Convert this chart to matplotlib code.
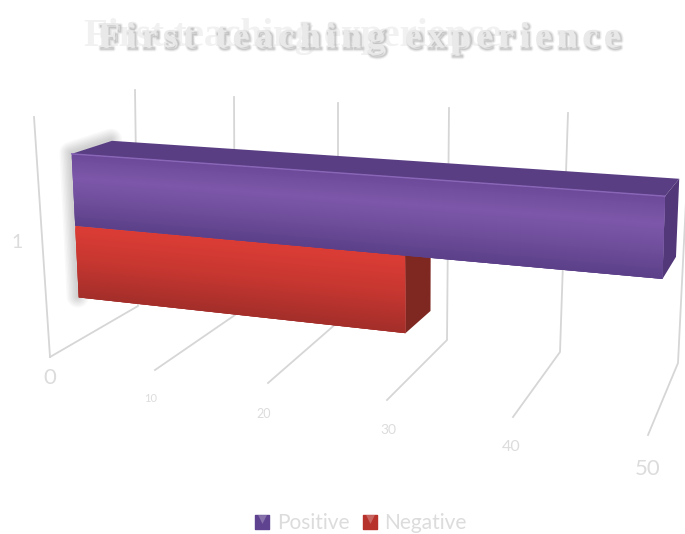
import numpy as np
import matplotlib
matplotlib.use("Agg")
import matplotlib.pyplot as plt
import matplotlib.patheffects as pe
from matplotlib.font_manager import FontProperties
from matplotlib.colors import to_rgb

plt.rcParams["font.family"] = ["Lato", "DejaVu Sans"]

title = "First teaching experience"
categories = ["1"]
series_names = ["Positive", "Negative"]
positive = [50]
negative = [29.8]
ticks = [0, 10, 20, 30, 40, 50]
tick_labels = ["0", "10", "20", "30", "40", "50"]

# 3D box as seen in the picture (pixels), one entry per tick
floor_front = np.array([[50, 357], [155, 370], [268, 383], [387, 400], [513, 417], [648, 435]], float)
floor_back = np.array([[138, 306], [235, 315], [338, 322], [447, 340], [560, 352], [678, 363]], float)
wall_back = np.array([[135, 90], [234, 97], [338, 103], [449, 108], [568, 113], [690, 120]], float)
wall_front = np.array([[34, 117], [143, 122], [261, 127], [384, 136], [515, 145], [654, 155]], float)

# where the bars sit inside the box
depth0, depth1 = 0.35, 0.76
low, mid, high = 0.18, 0.49, 0.80

fig = plt.figure(figsize=(6.85, 5.34), dpi=100)
ax = fig.add_axes([0, 0, 1, 1])
ax.set_xlim(0, 685)
ax.set_ylim(534, 0)
ax.axis("off")


def project(v, d, h):
    res = []
    for k in range(2):
        a = np.interp(v, ticks, floor_front[:, k])
        b = np.interp(v, ticks, floor_back[:, k])
        c = np.interp(v, ticks, wall_front[:, k])
        e = np.interp(v, ticks, wall_back[:, k])
        bottom = a + (b - a) * d
        top = c + (e - c) * d
        res.append(bottom + (top - bottom) * h)
    return res


def face(corners, color, z):
    ax.fill([p[0] for p in corners], [p[1] for p in corners], color=color, lw=0, zorder=z)


def front_face(value, h0, h1, colors, z):
    # vertical gradient, each strip runs a little under the next one so no seams show
    stops = np.linspace(0, 1, len(colors))
    rgb = np.array([to_rgb(c) for c in colors])
    edges = np.linspace(h1, h0, 41)
    for i in range(40):
        t = (i + 0.5) / 40
        col = [np.interp(t, stops, rgb[:, k]) for k in range(3)]
        below = edges[min(i + 3, 40)]
        face([project(0, depth0, edges[i]), project(value, depth0, edges[i]),
              project(value, depth0, below), project(0, depth0, below)], col, z + i * 0.001)


def box(value, h0, h1, colors, top_color, side_color, z):
    face([project(0, depth0, h1), project(0, depth1, h1),
          project(value, depth1, h1), project(value, depth0, h1)], top_color, z)
    face([project(value, depth0, h0), project(value, depth1, h0),
          project(value, depth1, h1), project(value, depth0, h1)], side_color, z)
    front_face(value, h0, h1, colors, z + 0.1)


# gridlines on floor and wall
for i, t in enumerate(ticks):
    pts = [project(t, 0, 0), project(t, 1, 0), project(t, 1, 1)]
    ax.plot([p[0] for p in pts], [p[1] for p in pts], color="#d6d6d6", lw=1.3, zorder=1)
ax.plot([project(0, 0, 0)[0], project(0, 0, 1)[0]], [project(0, 0, 0)[1], project(0, 0, 1)[1]],
        color="#d6d6d6", lw=1.3, zorder=1)

# soft shadow round the left end of the bars
shadow = [project(0, depth1, high), project(0, depth0, high), project(0, depth0, low)]
for lw in range(2, 17, 2):
    ax.plot([p[0] - 1 for p in shadow], [p[1] - 1 for p in shadow], color="#404040", alpha=0.03,
            lw=lw, solid_capstyle="round", solid_joinstyle="round", zorder=2)

box(negative[0], low, mid, ["#dc3d35", "#c63630", "#a32e2a"], "#c63630", "#7f2822", 3)
box(positive[0], mid, high, ["#6d4b99", "#7d58aa", "#6e4d9b", "#5b3f88"], "#593e84", "#523779", 4)

# thin highlight along the front top edge of the purple bar
edge = [project(0, depth0, high), project(positive[0], depth0, high)]
ax.plot([p[0] for p in edge], [p[1] for p in edge], color="#8a66b8", lw=1, zorder=5)

# axis labels
ax.text(17, 243, categories[0], color="#dcdcdc", fontsize=14, ha="center", va="center")
tick_pos = [(50, 378), (151, 399), (264, 414), (388, 430), (511, 447), (648, 469)]
tick_size = [16, 8, 9, 10, 11.5, 16]
for lab, pos, size in zip(tick_labels, tick_pos, tick_size):
    ax.text(pos[0], pos[1], lab, color="#dcdcdc", fontsize=size, ha="center", va="center")

# title: pale ghost text, then wide blurred letters
serif = FontProperties(family="Liberation Serif", weight="bold", size=26)
ax.text(293, 46, title, color="#f1f1f1", fontsize=28, fontweight="bold", family="Liberation Serif",
        ha="center", va="baseline", zorder=5)

renderer = fig.canvas.get_renderer()


def text_width(s):
    w1 = renderer.get_text_width_height_descent(s + "|", serif, False)[0]
    w0 = renderer.get_text_width_height_descent("|", serif, False)[0]
    return w1 - w0


start, end = 98, 620
extra = (end - start - text_width(title)) / (len(title) - 1)
blur = [pe.Stroke(linewidth=lw, foreground="#8c8c8c", alpha=a, offset=(1.5, -1.5))
        for lw, a in [(3.5, 0.10), (2.2, 0.16), (1, 0.25)]]
blur.append(pe.Normal())
for i, ch in enumerate(title):
    x = start + text_width(title[:i]) + extra * i
    t = ax.text(x, 47, ch, color="#e9e9e9", fontproperties=serif, ha="left", va="baseline", zorder=6)
    t.set_path_effects(blur)

# legend
legend_colors = ["#5f4390", "#b8322c"]
legend_marks = [262, 370]
legend_text = [277, 384]
for name, col, mx, tx in zip(series_names, legend_colors, legend_marks, legend_text):
    ax.scatter([mx], [522], marker="s", s=105, color=col, zorder=6)
    ax.scatter([mx], [519], marker="v", s=40, color="#ffffff", alpha=0.25, lw=0, zorder=7)
    ax.text(tx, 523, name, color="#dcdcdc", fontsize=15, ha="left", va="center")

fig.savefig("out.png", dpi=100)
